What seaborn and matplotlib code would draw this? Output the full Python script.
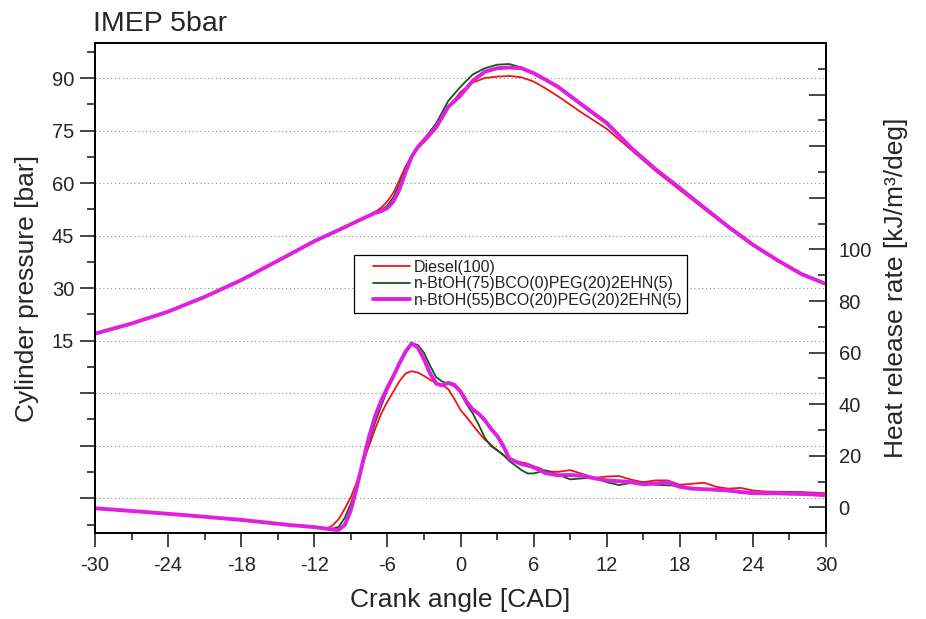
import matplotlib
matplotlib.use("Agg")
import matplotlib.pyplot as plt
from matplotlib.ticker import MultipleLocator, FixedLocator, FixedFormatter
from matplotlib.lines import Line2D
from matplotlib.legend_handler import HandlerLine2D
import seaborn as sns

# ---------------- data ----------------
labels = ["Diesel(100)", "n-BtOH(75)BCO(0)PEG(20)2EHN(5)", "n-BtOH(55)BCO(20)PEG(20)2EHN(5)"]

# cylinder pressure [bar]
cad_p = [-30, -27, -24, -21, -18, -15, -12, -10, -8, -7, -6.5, -6, -5.5, -5, -4.5, -4, -3.5, -3,
         -2, -1, 0, 1, 2, 3, 4, 5, 6, 7, 8, 10, 12, 14, 16, 18, 20, 22, 24, 26, 28, 30]
p_diesel = [17.0, 19.9, 23.3, 27.5, 32.3, 37.8, 43.4, 46.6, 49.9, 51.8, 53.0, 54.8, 57.3, 61.0, 64.8, 67.8, 70.0, 71.6,
            75.5, 81.5, 86.0, 88.7, 90.0, 90.4, 90.6, 90.2, 89.0, 87.0, 84.8, 80.0, 75.5, 69.5, 63.5, 58.0, 52.6, 47.2, 42.2, 37.8, 33.9, 31.2]
p_b75 = [17.0, 19.9, 23.3, 27.5, 32.3, 37.8, 43.4, 46.6, 49.9, 51.6, 52.3, 53.6, 56.0, 59.8, 64.3, 67.9, 70.5, 72.5,
         77.0, 83.5, 87.5, 91.0, 92.8, 93.8, 94.0, 93.0, 91.3, 89.3, 87.3, 82.0, 76.8, 70.0, 63.8, 58.4, 52.9, 47.4, 42.3, 37.9, 34.0, 31.2]
p_b55 = [17.0, 19.9, 23.3, 27.5, 32.3, 37.8, 43.4, 46.6, 49.9, 51.5, 52.0, 52.9, 54.8, 58.3, 63.2, 67.6, 70.3, 72.2,
         76.0, 81.8, 85.0, 89.2, 91.8, 92.8, 93.0, 92.8, 91.4, 89.5, 87.5, 82.3, 77.2, 70.1, 64.0, 58.6, 53.0, 47.5, 42.4, 38.0, 34.0, 31.2]

# heat release rate [kJ/m3/deg]
cad_h = [-30, -26, -22, -18, -14, -12, -11, -10.5, -10, -9.5, -9, -8.5, -8, -7.5, -7, -6.5, -6, -5.5, -5, -4.5,
         -4, -3.5, -3, -2.5, -2, -1.5, -1, -0.5, 0, 0.5, 1, 1.5, 2, 2.5, 3, 3.5, 4, 4.5, 5, 5.5, 6, 6.5, 7,
         8, 9, 10, 11, 12, 13, 14, 15, 16, 17, 18, 19, 20, 21, 22, 23, 24, 25, 26, 28, 30]
h_diesel = [-0.3, -1.7, -3.2, -4.8, -6.8, -7.6, -8.2, -7.0, -4.5, -0.5, 4.0, 10.0, 17.5, 24.0, 30.5, 36.5, 41.0, 45.0, 49.0, 52.0,
            52.8, 52.3, 51.0, 49.5, 48.3, 47.5, 45.8, 42.0, 37.8, 35.0, 32.0, 29.0, 26.3, 24.3, 22.3, 20.3, 18.7, 18.0, 17.5, 17.0, 16.0, 15.2, 14.0,
            13.8, 14.5, 13.0, 11.5, 12.0, 12.2, 10.8, 9.8, 10.5, 10.5, 8.8, 9.2, 9.6, 8.0, 7.3, 7.6, 6.6, 6.2, 6.1, 6.0, 5.5]
h_b75 = [-0.3, -1.7, -3.2, -4.8, -6.8, -7.6, -8.4, -8.2, -7.5, -4.0, 1.5, 8.5, 17.0, 25.5, 33.0, 39.5, 45.5, 50.5, 55.5, 60.0,
         63.5, 63.0, 60.0, 55.0, 50.5, 48.8, 48.0, 47.0, 44.5, 40.0, 36.5, 32.0, 27.0, 23.8, 22.2, 20.5, 18.0, 16.3, 14.5, 13.2, 13.2, 13.8, 14.4,
         12.8, 10.9, 11.3, 11.6, 9.8, 8.7, 9.5, 9.8, 8.8, 8.6, 8.4, 7.5, 7.0, 6.6, 6.3, 5.8, 5.3, 5.2, 5.2, 5.0, 4.6]
h_b55 = [-0.3, -1.7, -3.2, -4.8, -6.8, -7.6, -8.2, -8.6, -8.7, -6.8, -1.0, 8.0, 18.0, 27.5, 35.5, 41.5, 46.5, 51.0, 56.0, 60.5,
         63.6, 62.0, 57.5, 52.0, 48.0, 47.3, 48.3, 47.5, 45.0, 41.0, 38.0, 36.3, 33.8, 30.5, 27.8, 24.0, 19.0, 17.8, 16.8, 16.3, 15.6, 14.5, 13.3,
         12.5, 12.6, 12.3, 11.3, 10.5, 10.2, 9.8, 9.0, 9.3, 9.8, 8.0, 7.3, 7.1, 6.9, 6.6, 6.0, 5.6, 5.5, 5.5, 5.3, 4.8]

left_ticks = [-30, -15, 0, 15, 30, 45, 60, 75, 90]
left_ticklabels = ["", "", "", "15", "30", "45", "60", "75", "90"]
right_ticks = [0, 20, 40, 60, 80, 100, 120, 140, 160]
right_ticklabels = ["0", "20", "40", "60", "80", "100", "", "", ""]

# ---------------- style ----------------
colors = ["#ee1515", "#0e5a12", "#e020e0"]
widths = [1.3, 1.3, 2.8]

sns.set_style("ticks")
plt.rcParams['font.family'] = ['Liberation Sans', 'DejaVu Sans']
plt.rcParams['axes.unicode_minus'] = False

fig = plt.figure(figsize=(9.26, 6.19), dpi=100)
ax = fig.add_axes([95 / 926, 1 - 533.3 / 619, 731 / 926, 490.3 / 619])
ax2 = ax.twinx()

for vals, c, w in zip([p_diesel, p_b75, p_b55], colors, widths):
    sns.lineplot(x=cad_p, y=vals, ax=ax, color=c, linewidth=w, legend=False)
for vals, c, w in zip([h_diesel, h_b75, h_b55], colors, widths):
    sns.lineplot(x=cad_h, y=vals, ax=ax2, color=c, linewidth=w, legend=False)

ax.set_xlim(-30, 30)
ax.set_ylim(-40, 100)
ax2.set_ylim(-10, 180)

ax.xaxis.set_major_locator(MultipleLocator(6))
ax.xaxis.set_minor_locator(MultipleLocator(3))
ax.yaxis.set_major_locator(FixedLocator(left_ticks))
ax.yaxis.set_major_formatter(FixedFormatter(left_ticklabels))
ax.yaxis.set_minor_locator(MultipleLocator(7.5))
ax2.yaxis.set_major_locator(FixedLocator(right_ticks))
ax2.yaxis.set_major_formatter(FixedFormatter(right_ticklabels))
ax2.yaxis.set_minor_locator(MultipleLocator(10))

ax.grid(axis='y', which='major', linestyle=(0, (1, 2.5)), color='#8a8a8a', linewidth=0.8)
ax.grid(axis='x', visible=False)

TL = 14.5
ax.tick_params(axis='x', which='major', direction='out', length=10, width=1.2, labelsize=TL, pad=6, top=False)
ax.tick_params(axis='x', which='minor', direction='out', length=5, width=1.2, top=False)
ax.tick_params(axis='y', which='major', direction='out', length=11, width=1.2, labelsize=TL, pad=4, right=False)
ax.tick_params(axis='y', which='minor', direction='out', length=6, width=1.2, right=False)
ax2.tick_params(axis='y', which='major', direction='in', length=12, width=1.2, labelsize=TL, pad=9)
ax2.tick_params(axis='y', which='minor', direction='in', length=6, width=1.2)

for a in (ax, ax2):
    for s in a.spines.values():
        s.set_visible(True)
        s.set_color('black')
        s.set_linewidth(1.3)

ax.set_xlabel("Crank angle [CAD]", fontsize=19, labelpad=10)
ax.set_ylabel("Cylinder pressure [bar]", fontsize=19, labelpad=9)
ax2.set_ylabel("Heat release rate [kJ/m³/deg]", fontsize=19, labelpad=9)

fig.text(93 / 926, 1 - 31 / 619, "IMEP 5bar", fontsize=20.5, ha='left', va='baseline')


class GapLineHandler(HandlerLine2D):
    def create_artists(self, legend, orig_handle, xdescent, ydescent, width, height, fontsize, trans):
        gap = 0.9 * fontsize
        y = (height - ydescent) / 2.0
        line = Line2D([-xdescent + gap, -xdescent + width], [y, y])
        self.update_prop(line, orig_handle, legend)
        line.set_transform(trans)
        return [line]


handles = [Line2D([], [], color=c, linewidth=w) for c, w in zip(colors, widths)]
leg = ax2.legend(handles, labels, loc='upper left', bbox_to_anchor=(0.354, 0.568), borderaxespad=0,
                 frameon=True, fancybox=False, edgecolor='black', framealpha=1, fontsize=11.5,
                 handlelength=3.2, handletextpad=0.25, labelspacing=0.1, borderpad=0.3,
                 handler_map={Line2D: GapLineHandler()})
leg.get_frame().set_linewidth(0.9)
for t in leg.get_texts():
    t.set_color('#222222')

fig.savefig("out.png", dpi=100)
